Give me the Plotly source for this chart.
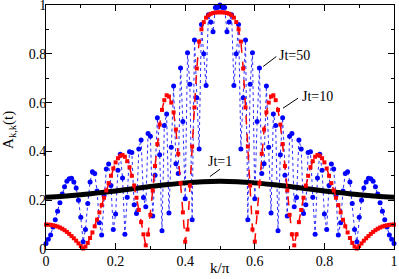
import plotly.graph_objects as go

# sampling grid k/pi = n/150
N_STEPS = 150
K_IDX = list(range(N_STEPS + 1))
k_vals = [n / N_STEPS for n in K_IDX]

# Jt=10 (red squares), left half n=0..75 and right half n=76..150
A_JT10_LEFT = [0.100, 0.100, 0.099, 0.097, 0.095, 0.092, 0.088, 0.083, 0.077, 0.070,
               0.062, 0.053, 0.044, 0.034, 0.023, 0.012, 0.002, 0.010, 0.025, 0.045,
               0.068, 0.093, 0.120, 0.150, 0.180, 0.210, 0.240, 0.270, 0.300, 0.330,
               0.355, 0.372, 0.382, 0.385, 0.378, 0.360, 0.335, 0.300, 0.260, 0.210,
               0.160, 0.110, 0.060, 0.015, 0.060, 0.140, 0.240, 0.340, 0.430, 0.510,
               0.570, 0.610, 0.630, 0.625, 0.600, 0.560, 0.490, 0.390, 0.270, 0.150,
               0.030, 0.080, 0.260, 0.420, 0.580, 0.740, 0.850, 0.900, 0.930, 0.948,
               0.958, 0.964, 0.967, 0.969, 0.970, 0.970]
A_JT10_RIGHT = [0.970, 0.969, 0.967, 0.964, 0.958, 0.948, 0.930, 0.900, 0.850, 0.740,
                0.580, 0.420, 0.260, 0.080, 0.030, 0.150, 0.270, 0.390, 0.490, 0.560,
                0.600, 0.625, 0.630, 0.610, 0.570, 0.510, 0.430, 0.340, 0.240, 0.140,
                0.060, 0.015, 0.060, 0.110, 0.160, 0.210, 0.260, 0.300, 0.335, 0.360,
                0.378, 0.385, 0.382, 0.372, 0.355, 0.330, 0.300, 0.270, 0.240, 0.210,
                0.180, 0.150, 0.120, 0.093, 0.068, 0.045, 0.025, 0.010, 0.002, 0.012,
                0.023, 0.034, 0.044, 0.053, 0.062, 0.070, 0.077, 0.083, 0.088, 0.092,
                0.095, 0.097, 0.099, 0.100, 0.100]

# Jt=50 (blue circles)
A_JT50_LEFT = [0.023, 0.040, 0.057, 0.090, 0.120, 0.155, 0.190, 0.225, 0.255, 0.278,
               0.288, 0.290, 0.275, 0.250, 0.200, 0.130, 0.030, 0.080, 0.186, 0.275,
               0.317, 0.309, 0.238, 0.108, 0.057, 0.218, 0.328, 0.348, 0.260, 0.080,
               0.143, 0.323, 0.388, 0.291, 0.060, 0.212, 0.399, 0.395, 0.181, 0.146,
               0.410, 0.447, 0.211, 0.173, 0.473, 0.462, 0.135, 0.302, 0.538, 0.386,
               0.075, 0.506, 0.553, 0.148, 0.417, 0.668, 0.349, 0.309, 0.742, 0.523,
               0.206, 0.804, 0.675, 0.120, 0.857, 0.620, 0.410, 0.920, 0.800, 0.670,
               0.960, 0.930, 0.890, 0.990, 0.990, 1.000]
A_JT50_RIGHT = [0.990, 0.990, 0.890, 0.930, 0.960, 0.670, 0.800, 0.920, 0.410, 0.620,
                0.857, 0.120, 0.675, 0.804, 0.206, 0.523, 0.742, 0.309, 0.349, 0.668,
                0.417, 0.148, 0.553, 0.506, 0.075, 0.386, 0.538, 0.302, 0.135, 0.462,
                0.473, 0.173, 0.211, 0.447, 0.410, 0.146, 0.181, 0.395, 0.399, 0.212,
                0.060, 0.291, 0.388, 0.323, 0.143, 0.080, 0.260, 0.348, 0.328, 0.218,
                0.057, 0.108, 0.238, 0.309, 0.317, 0.275, 0.186, 0.080, 0.030, 0.130,
                0.200, 0.250, 0.275, 0.290, 0.288, 0.278, 0.255, 0.225, 0.190, 0.155,
                0.120, 0.090, 0.057, 0.040, 0.023]

# Jt=1 (black thick line), k/pi = 0, 0.05, ..., 1
K_JT1 = [0.00, 0.05, 0.10, 0.15, 0.20, 0.25, 0.30, 0.35, 0.40, 0.45, 0.50,
         0.55, 0.60, 0.65, 0.70, 0.75, 0.80, 0.85, 0.90, 0.95, 1.00]
A_JT1 = [0.212, 0.216, 0.222, 0.230, 0.238, 0.247, 0.256, 0.264, 0.271, 0.276, 0.278,
         0.276, 0.271, 0.264, 0.256, 0.247, 0.238, 0.230, 0.222, 0.216, 0.212]

a_jt10 = A_JT10_LEFT + A_JT10_RIGHT
a_jt50 = A_JT50_LEFT + A_JT50_RIGHT
assert len(a_jt10) == len(k_vals), len(a_jt10)
assert len(a_jt50) == len(k_vals), len(a_jt50)

TICKS = [0, 0.2, 0.4, 0.6, 0.8, 1.0]
TICK_TEXT = ["0", "0.2", "0.4", "0.6", "0.8", "1"]

SERIF = "Liberation Serif, Times New Roman, serif"

fig = go.Figure()
fig.add_trace(go.Scatter(
    x=k_vals, y=a_jt50, mode="lines+markers",
    line=dict(color="#2a2aff", width=1, dash="dot"),
    marker=dict(color="#0000ff", size=5, symbol="circle"),
    cliponaxis=False, showlegend=False, hoverinfo="skip"))
fig.add_trace(go.Scatter(
    x=K_JT1, y=A_JT1, mode="lines",
    line=dict(color="black", width=5, shape="spline"),
    showlegend=False, hoverinfo="skip"))
fig.add_trace(go.Scatter(
    x=k_vals, y=a_jt10, mode="lines+markers",
    line=dict(color="#ff0000", width=1.5, dash="dash"),
    marker=dict(color="#ff0000", size=4, symbol="square"),
    cliponaxis=False, showlegend=False, hoverinfo="skip"))

axis_common = dict(
    range=[0, 1], tickvals=TICKS, ticktext=TICK_TEXT,
    ticks="inside", ticklen=6, tickwidth=1, tickcolor="black",
    showline=True, linecolor="black", linewidth=1, mirror="ticks",
    showgrid=False, zeroline=False,
    minor=dict(ticks="inside", ticklen=3, tickwidth=1, tickcolor="black",
               dtick=0.1, tick0=0, showgrid=False),
    tickfont=dict(family=SERIF, size=14, color="black"),
    ticklabeloverflow="allow",
    automargin=False,
)

fig.update_layout(
    width=399, height=279,
    margin=dict(l=46, r=5, t=5, b=30),
    paper_bgcolor="white", plot_bgcolor="white",
    xaxis=dict(axis_common, ticklabelstandoff=-1),
    yaxis=dict(axis_common, ticklabelstandoff=-4),
    hovermode=False,
)

# axis titles
fig.add_annotation(x=0.5, y=-0.078, xref="paper", yref="paper", text="k/π",
                   showarrow=False, xanchor="center", yanchor="middle",
                   font=dict(family=SERIF, size=15, color="black"))
fig.add_annotation(x=-0.105, y=0.49, xref="paper", yref="paper",
                   text="A<sub>k,k</sub>(t)", textangle=-90,
                   showarrow=False, xanchor="center", yanchor="middle",
                   font=dict(family=SERIF, size=15, color="black"))

# label pointers
for (x0, y0, x1, y1) in [(0.662, 0.789, 0.624, 0.748),
                         (0.724, 0.618, 0.681, 0.577),
                         (0.500, 0.327, 0.471, 0.297)]:
    fig.add_shape(type="line", x0=x0, y0=y0, x1=x1, y1=y1,
                  xref="x", yref="y", line=dict(color="black", width=1))

for (tx, ty, txt) in [(0.715, 0.792, "Jt=50"), (0.779, 0.624, "Jt=10"), (0.500, 0.357, "Jt=1")]:
    fig.add_annotation(x=tx, y=ty, xref="x", yref="y", text=txt, showarrow=False,
                       font=dict(family=SERIF, size=14, color="black"))

fig.write_html("out.html", config={"displayModeBar": False, "staticPlot": True},
               post_script="document.body.style.margin='0';document.body.style.padding='0';")
